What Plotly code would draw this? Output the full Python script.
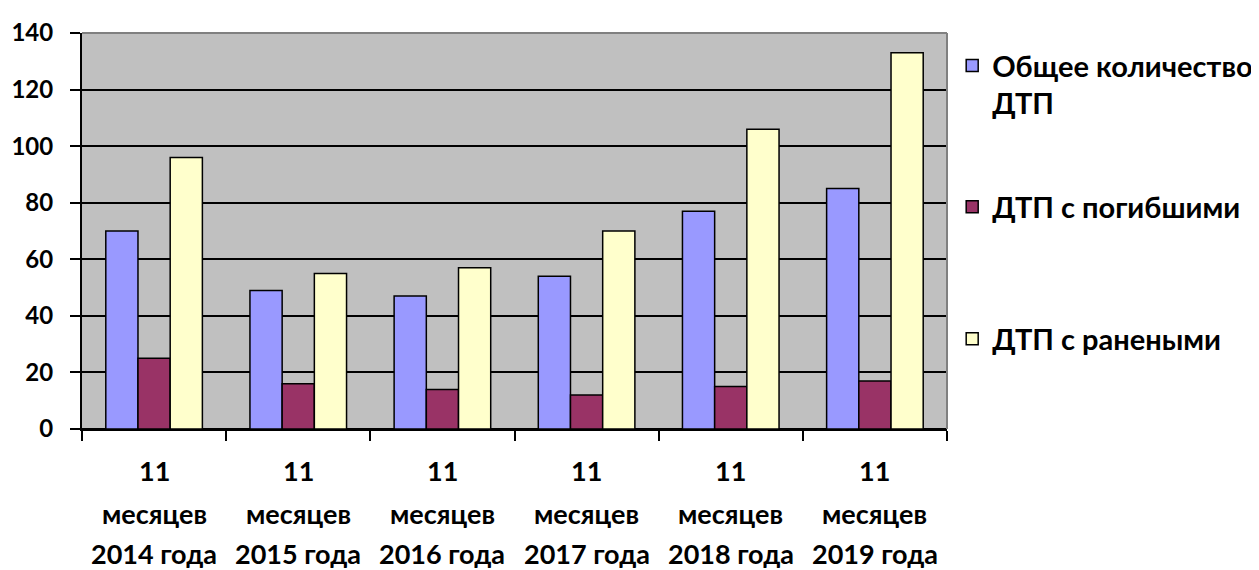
import plotly.graph_objects as go

years = ["2014", "2015", "2016", "2017", "2018", "2019"]
label_top = "11"
label_mid = "месяцев"
label_suffix = "года"
series_names = ["Общее количество<br>ДТП", "ДТП с погибшими", "ДТП с ранеными"]
total = [70, 49, 47, 54, 77, 85]
killed = [25, 16, 14, 12, 15, 17]
injured = [96, 55, 57, 70, 106, 133]
colors = ["#9999FF", "#993366", "#FFFFCC"]
y_ticks = [0, 20, 40, 60, 80, 100, 120, 140]

categories = [f"{y} {label_suffix}" for y in years]

FONT = "Lato"
fig = go.Figure()
legend_ids = ["legend", "legend2", "legend3"]
for name, vals, col, lg in zip(series_names, [total, killed, injured], colors, legend_ids):
    fig.add_trace(go.Bar(
        x=categories, y=vals, name=name, legend=lg,
        marker=dict(color=col, line=dict(color="black", width=1.5)),
    ))

annotations = []
for i, cat in enumerate(categories):
    for txt, yy in [(label_top, -0.105), (label_mid, -0.214), (cat, -0.314)]:
        annotations.append(dict(
            x=i, xref="x", y=yy, yref="paper", text=txt, showarrow=False,
            xanchor="center", yanchor="middle",
            font=dict(family=FONT, size=27, color="black", weight="bold"),
        ))

legend_font = dict(family=FONT, size=29, color="black", weight="bold")
def leg(ytop):
    return dict(x=1.006, xanchor="left", y=ytop, yanchor="top", font=legend_font,
                valign="top", bgcolor="rgba(0,0,0,0)")

fig.update_layout(
    width=1251, height=562,
    margin=dict(l=74, r=312, t=25, b=141, autoexpand=False),
    paper_bgcolor="white", plot_bgcolor="#C0C0C0",
    barmode="group", bargap=0.33, bargroupgap=0,
    font=dict(family=FONT, color="black"),
    showlegend=True,
    legend=leg(0.982),
    legend2=leg(0.625),
    legend3=leg(0.292),
    annotations=annotations,
    shapes=[
        dict(type="line", xref="paper", yref="paper", x0=0, x1=1, y0=1, y1=1,
             line=dict(color="#808080", width=2)),
        dict(type="line", xref="paper", yref="paper", x0=1, x1=1, y0=0, y1=1,
             line=dict(color="#808080", width=2)),
    ],
)
fig.update_xaxes(
    type="category", showticklabels=False, tickson="boundaries",
    range=[-0.5, 5.5], automargin=False,
    ticks="outside", ticklen=10, tickwidth=2, tickcolor="black",
    showline=True, linecolor="black", linewidth=2, showgrid=False,
)
fig.update_yaxes(
    range=[0, 140], tickvals=y_ticks, ticks="outside", ticklen=10, tickwidth=2,
    tickcolor="black", showline=True, linecolor="black", linewidth=2,
    showgrid=True, gridcolor="black", gridwidth=1.5, automargin=False,
    zeroline=True, zerolinecolor="black", zerolinewidth=2,
    tickfont=dict(family=FONT, size=24, color="black", weight="bold"),
    ticklabelstandoff=12,
)
fig.write_html("out.html")
